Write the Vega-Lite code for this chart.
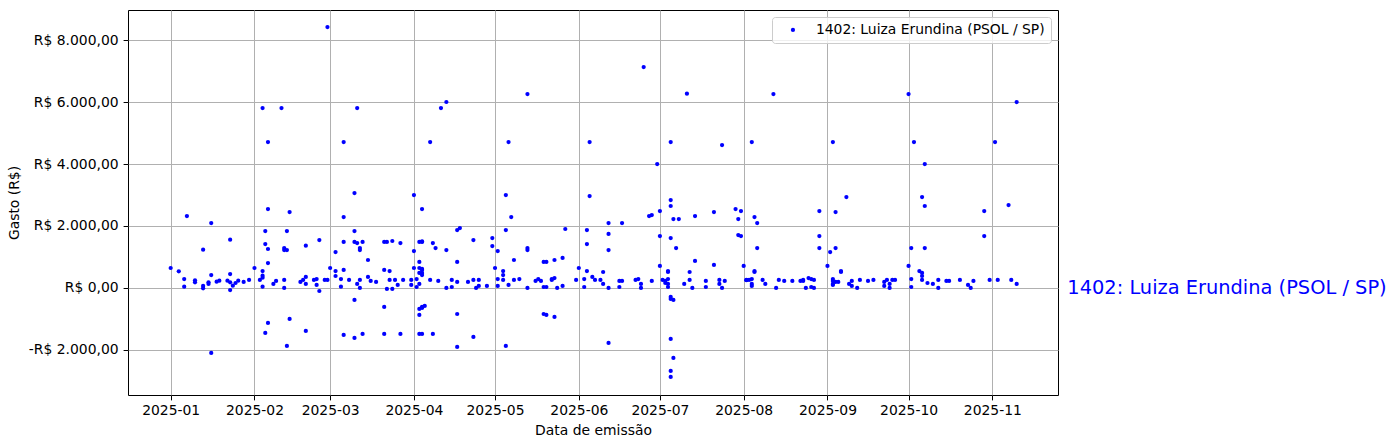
{
"$schema":"https://vega.github.io/schema/vega-lite/v6.json",
"width":930,"height":385,
"autosize":{"type":"none"},
"padding":{"left":128,"top":10,"right":339,"bottom":53},
"background":"white",
"config":{
 "font":"DejaVu Sans",
 "view":{"stroke":"#000","strokeWidth":1},
 "axis":{"labelFont":"DejaVu Sans","labelFontSize":13.9,"labelColor":"#000","titleFont":"DejaVu Sans","titleFontSize":13.9,"titleFontWeight":"normal","titleColor":"#000","tickColor":"#000","tickSize":4.9,"tickWidth":1,"labelPadding":4,"gridColor":"#b0b0b0","gridWidth":1,"gridOpacity":1,"domain":false,"zindex":1,"labelFlush":false,"labelOverlap":false}
},
"encoding":{
 "x":{"field":"d","type":"temporal",
  "scale":{"type":"time","nice":false,"domain":[{"year":2024,"month":12,"date":16,"hours":5},{"year":2025,"month":11,"date":25,"hours":7}]},
  "axis":{"title":"Data de emissão","format":"%Y-%m","titlePadding":6,
   "values":[{"year":2025,"month":1,"date":1},{"year":2025,"month":2,"date":1},{"year":2025,"month":3,"date":1},{"year":2025,"month":4,"date":1},{"year":2025,"month":5,"date":1},{"year":2025,"month":6,"date":1},{"year":2025,"month":7,"date":1},{"year":2025,"month":8,"date":1},{"year":2025,"month":9,"date":1},{"year":2025,"month":10,"date":1},{"year":2025,"month":11,"date":1}]}},
 "y":{"field":"v","type":"quantitative",
  "scale":{"domain":[-3452,8968],"nice":false,"zero":false},
  "axis":{"title":"Gasto (R$)","titlePadding":7,"labelPadding":5,"values":[-2000,0,2000,4000,6000,8000],
   "labelExpr":"(datum.value < 0 ? '-' : '') + 'R$ ' + replace(format(abs(datum.value), ','), ',', '.') + ',00'"}}
},
"layer":[
 {"data":{"values":[
{"d":"2025/01/01","v":645},{"d":"2025/01/04","v":537},{"d":"2025/01/07","v":2322},{"d":"2025/01/06","v":290},{"d":"2025/01/06","v":43},{"d":"2025/01/10","v":247},{"d":"2025/01/10","v":183},{"d":"2025/01/13","v":1236},{"d":"2025/01/13","v":65},{"d":"2025/01/13","v":-10},{"d":"2025/01/16","v":2096},{"d":"2025/01/16","v":-2096},{"d":"2025/01/16","v":419},{"d":"2025/01/15","v":183},{"d":"2025/01/15","v":129},{"d":"2025/01/18","v":204},{"d":"2025/01/19","v":236},{"d":"2025/01/23","v":1559},{"d":"2025/01/23","v":451},{"d":"2025/01/22","v":236},{"d":"2025/01/23","v":183},{"d":"2025/01/23","v":-65},{"d":"2025/01/24","v":75},{"d":"2025/01/25","v":161},{"d":"2025/01/26","v":236},{"d":"2025/01/28","v":194},{"d":"2025/01/30","v":258},
{"d":"2025/02/01","v":645},{"d":"2025/02/04","v":5805},{"d":"2025/02/06","v":4709},{"d":"2025/02/06","v":2548},{"d":"2025/02/05","v":1838},{"d":"2025/02/05","v":1419},{"d":"2025/02/06","v":1258},{"d":"2025/02/06","v":806},{"d":"2025/02/04","v":548},{"d":"2025/02/04","v":398},{"d":"2025/02/04","v":333},{"d":"2025/02/03","v":258},{"d":"2025/02/04","v":43},{"d":"2025/02/06","v":-1129},{"d":"2025/02/05","v":-1451},{"d":"2025/02/11","v":5805},{"d":"2025/02/14","v":2451},{"d":"2025/02/13","v":1838},{"d":"2025/02/12","v":1290},{"d":"2025/02/13","v":1225},{"d":"2025/02/12","v":1225},{"d":"2025/02/08","v":129},{"d":"2025/02/09","v":226},{"d":"2025/02/12","v":258},{"d":"2025/02/12","v":0},{"d":"2025/02/14","v":-1000},{"d":"2025/02/13","v":-1870},{"d":"2025/02/18","v":194},{"d":"2025/02/20","v":1365},{"d":"2025/02/20","v":-1387},{"d":"2025/02/19","v":258},{"d":"2025/02/20","v":355},{"d":"2025/02/20","v":129},{"d":"2025/02/23","v":258},{"d":"2025/02/24","v":290},{"d":"2025/02/24","v":97},{"d":"2025/02/25","v":1548},{"d":"2025/02/25","v":-97},{"d":"2025/02/27","v":258},{"d":"2025/02/28","v":258},{"d":"2025/02/28","v":8417},
{"d":"2025/03/01","v":645},{"d":"2025/03/03","v":548},{"d":"2025/03/03","v":387},{"d":"2025/03/03","v":1161},{"d":"2025/03/05","v":290},{"d":"2025/03/05","v":43},{"d":"2025/03/06","v":1484},{"d":"2025/03/06","v":4709},{"d":"2025/03/06","v":2290},{"d":"2025/03/06","v":581},{"d":"2025/03/06","v":-1516},{"d":"2025/03/08","v":258},{"d":"2025/03/10","v":3064},{"d":"2025/03/10","v":1838},{"d":"2025/03/10","v":1484},{"d":"2025/03/11","v":5805},{"d":"2025/03/10","v":-387},{"d":"2025/03/10","v":-1612},{"d":"2025/03/11","v":129},{"d":"2025/03/11","v":1451},{"d":"2025/03/12","v":1290},{"d":"2025/03/12","v":1225},{"d":"2025/03/12","v":258},{"d":"2025/03/12","v":0},{"d":"2025/03/13","v":1484},{"d":"2025/03/13","v":-1483},{"d":"2025/03/15","v":903},{"d":"2025/03/15","v":355},{"d":"2025/03/16","v":226},{"d":"2025/03/18","v":194},{"d":"2025/03/21","v":1484},{"d":"2025/03/22","v":1484},{"d":"2025/03/21","v":581},{"d":"2025/03/21","v":-613},{"d":"2025/03/21","v":-1483},{"d":"2025/03/23","v":548},{"d":"2025/03/23","v":258},{"d":"2025/03/22","v":-32},{"d":"2025/03/24","v":1516},{"d":"2025/03/25","v":258},{"d":"2025/03/24","v":-32},{"d":"2025/03/26","v":97},{"d":"2025/03/27","v":1451},{"d":"2025/03/27","v":-1483},{"d":"2025/03/28","v":258},{"d":"2025/03/31","v":258},{"d":"2025/03/31","v":97},
{"d":"2025/04/01","v":2999},{"d":"2025/04/01","v":1193},{"d":"2025/04/01","v":645},{"d":"2025/04/02","v":290},{"d":"2025/04/02","v":32},{"d":"2025/04/03","v":129},{"d":"2025/04/04","v":2548},{"d":"2025/04/03","v":1484},{"d":"2025/04/04","v":1484},{"d":"2025/04/04","v":1500},{"d":"2025/04/03","v":839},{"d":"2025/04/03","v":645},{"d":"2025/04/04","v":613},{"d":"2025/04/04","v":581},{"d":"2025/04/03","v":484},{"d":"2025/04/04","v":484},{"d":"2025/04/04","v":419},{"d":"2025/04/03","v":-677},{"d":"2025/04/04","v":-613},{"d":"2025/04/05","v":-580},{"d":"2025/04/04","v":-645},{"d":"2025/04/03","v":-871},{"d":"2025/04/03","v":-1483},{"d":"2025/04/04","v":-1483},{"d":"2025/04/07","v":4709},{"d":"2025/04/07","v":258},{"d":"2025/04/08","v":1451},{"d":"2025/04/09","v":1290},{"d":"2025/04/08","v":-1483},{"d":"2025/04/10","v":226},{"d":"2025/04/11","v":5805},{"d":"2025/04/13","v":6000},{"d":"2025/04/13","v":1225},{"d":"2025/04/13","v":0},{"d":"2025/04/15","v":258},{"d":"2025/04/15","v":32},{"d":"2025/04/17","v":1870},{"d":"2025/04/18","v":1935},{"d":"2025/04/17","v":839},{"d":"2025/04/17","v":194},{"d":"2025/04/17","v":-839},{"d":"2025/04/17","v":-1903},{"d":"2025/04/21","v":194},{"d":"2025/04/23","v":258},{"d":"2025/04/23","v":1548},{"d":"2025/04/23","v":-1580},{"d":"2025/04/24","v":0},{"d":"2025/04/25","v":65},{"d":"2025/04/25","v":258},{"d":"2025/04/28","v":65},{"d":"2025/04/30","v":1612},{"d":"2025/04/30","v":1354},
{"d":"2025/05/01","v":645},{"d":"2025/05/02","v":1193},{"d":"2025/05/02","v":290},{"d":"2025/05/02","v":65},{"d":"2025/05/04","v":258},{"d":"2025/05/04","v":548},{"d":"2025/05/04","v":419},{"d":"2025/05/05","v":2999},{"d":"2025/05/05","v":1870},{"d":"2025/05/06","v":4709},{"d":"2025/05/05","v":-1870},{"d":"2025/05/06","v":97},{"d":"2025/05/07","v":2290},{"d":"2025/05/08","v":258},{"d":"2025/05/08","v":903},{"d":"2025/05/10","v":290},{"d":"2025/05/13","v":6257},{"d":"2025/05/13","v":1290},{"d":"2025/05/13","v":1225},{"d":"2025/05/13","v":0},{"d":"2025/05/16","v":226},{"d":"2025/05/17","v":290},{"d":"2025/05/18","v":226},{"d":"2025/05/19","v":32},{"d":"2025/05/19","v":839},{"d":"2025/05/20","v":839},{"d":"2025/05/19","v":-839},{"d":"2025/05/20","v":-871},{"d":"2025/05/20","v":32},{"d":"2025/05/22","v":258},{"d":"2025/05/22","v":290},{"d":"2025/05/23","v":322},{"d":"2025/05/23","v":903},{"d":"2025/05/23","v":-935},{"d":"2025/05/24","v":0},{"d":"2025/05/26","v":65},{"d":"2025/05/26","v":968},{"d":"2025/05/27","v":1903},{"d":"2025/05/31","v":258},
{"d":"2025/06/01","v":645},{"d":"2025/06/03","v":290},{"d":"2025/06/03","v":32},{"d":"2025/06/04","v":548},{"d":"2025/06/04","v":1419},{"d":"2025/06/04","v":1870},{"d":"2025/06/05","v":2967},{"d":"2025/06/05","v":4709},{"d":"2025/06/06","v":355},{"d":"2025/06/07","v":258},{"d":"2025/06/09","v":258},{"d":"2025/06/10","v":516},{"d":"2025/06/10","v":129},{"d":"2025/06/12","v":2096},{"d":"2025/06/12","v":1742},{"d":"2025/06/12","v":1225},{"d":"2025/06/12","v":0},{"d":"2025/06/12","v":-1774},{"d":"2025/06/16","v":226},{"d":"2025/06/17","v":226},{"d":"2025/06/16","v":32},{"d":"2025/06/17","v":2096},{"d":"2025/06/22","v":258},{"d":"2025/06/23","v":290},{"d":"2025/06/24","v":129},{"d":"2025/06/24","v":0},{"d":"2025/06/25","v":7127},{"d":"2025/06/27","v":2322},{"d":"2025/06/28","v":2354},{"d":"2025/06/28","v":226},{"d":"2025/06/30","v":3999},
{"d":"2025/07/01","v":2483},{"d":"2025/07/01","v":1677},{"d":"2025/07/01","v":710},{"d":"2025/07/02","v":258},{"d":"2025/07/03","v":226},{"d":"2025/07/03","v":161},{"d":"2025/07/04","v":548},{"d":"2025/07/04","v":516},{"d":"2025/07/04","v":290},{"d":"2025/07/04","v":129},{"d":"2025/07/04","v":32},{"d":"2025/07/05","v":4709},{"d":"2025/07/05","v":2838},{"d":"2025/07/05","v":2645},{"d":"2025/07/05","v":1612},{"d":"2025/07/05","v":-290},{"d":"2025/07/05","v":-355},{"d":"2025/07/06","v":-387},{"d":"2025/07/05","v":-1645},{"d":"2025/07/06","v":-2257},{"d":"2025/07/05","v":-2677},{"d":"2025/07/05","v":-2870},{"d":"2025/07/06","v":2225},{"d":"2025/07/08","v":2225},{"d":"2025/07/07","v":1290},{"d":"2025/07/10","v":129},{"d":"2025/07/11","v":6267},{"d":"2025/07/12","v":258},{"d":"2025/07/12","v":516},{"d":"2025/07/13","v":0},{"d":"2025/07/14","v":2322},{"d":"2025/07/14","v":871},{"d":"2025/07/18","v":226},{"d":"2025/07/18","v":32},{"d":"2025/07/21","v":2451},{"d":"2025/07/21","v":742},{"d":"2025/07/24","v":4612},{"d":"2025/07/23","v":258},{"d":"2025/07/23","v":129},{"d":"2025/07/24","v":0},{"d":"2025/07/25","v":226},{"d":"2025/07/29","v":2548},{"d":"2025/07/31","v":2483},{"d":"2025/07/30","v":2225},{"d":"2025/07/30","v":1709},{"d":"2025/07/31","v":1677},
{"d":"2025/08/01","v":710},{"d":"2025/08/02","v":258},{"d":"2025/08/02","v":250},{"d":"2025/08/03","v":258},{"d":"2025/08/04","v":290},{"d":"2025/08/04","v":129},{"d":"2025/08/04","v":65},{"d":"2025/08/04","v":4709},{"d":"2025/08/05","v":2290},{"d":"2025/08/06","v":2096},{"d":"2025/08/06","v":1290},{"d":"2025/08/05","v":548},{"d":"2025/08/05","v":516},{"d":"2025/08/08","v":258},{"d":"2025/08/09","v":129},{"d":"2025/08/12","v":6257},{"d":"2025/08/13","v":0},{"d":"2025/08/14","v":258},{"d":"2025/08/16","v":226},{"d":"2025/08/19","v":226},{"d":"2025/08/22","v":226},{"d":"2025/08/23","v":226},{"d":"2025/08/23","v":258},{"d":"2025/08/24","v":0},{"d":"2025/08/25","v":322},{"d":"2025/08/26","v":290},{"d":"2025/08/27","v":258},{"d":"2025/08/26","v":32},{"d":"2025/08/27","v":0},{"d":"2025/08/29","v":2483},{"d":"2025/08/29","v":1677},{"d":"2025/08/29","v":1290},
{"d":"2025/09/01","v":710},{"d":"2025/09/02","v":1161},{"d":"2025/09/03","v":4709},{"d":"2025/09/03","v":290},{"d":"2025/09/03","v":97},{"d":"2025/09/04","v":2451},{"d":"2025/09/04","v":1290},{"d":"2025/09/08","v":2935},{"d":"2025/09/06","v":548},{"d":"2025/09/06","v":516},{"d":"2025/09/03","v":226},{"d":"2025/09/04","v":194},{"d":"2025/09/05","v":194},{"d":"2025/09/03","v":129},{"d":"2025/09/09","v":129},{"d":"2025/09/10","v":226},{"d":"2025/09/10","v":65},{"d":"2025/09/12","v":0},{"d":"2025/09/13","v":258},{"d":"2025/09/16","v":226},{"d":"2025/09/18","v":258},{"d":"2025/09/22","v":194},{"d":"2025/09/22","v":65},{"d":"2025/09/23","v":258},{"d":"2025/09/24","v":129},{"d":"2025/09/24","v":0},{"d":"2025/09/25","v":258},{"d":"2025/09/26","v":258},
{"d":"2025/10/01","v":6257},{"d":"2025/10/01","v":710},{"d":"2025/10/02","v":1290},{"d":"2025/10/02","v":290},{"d":"2025/10/02","v":32},{"d":"2025/10/03","v":4709},{"d":"2025/10/05","v":548},{"d":"2025/10/06","v":484},{"d":"2025/10/06","v":387},{"d":"2025/10/06","v":258},{"d":"2025/10/06","v":2935},{"d":"2025/10/07","v":2645},{"d":"2025/10/07","v":3999},{"d":"2025/10/07","v":1290},{"d":"2025/10/08","v":161},{"d":"2025/10/10","v":129},{"d":"2025/10/12","v":258},{"d":"2025/10/12","v":0},{"d":"2025/10/15","v":226},{"d":"2025/10/16","v":226},{"d":"2025/10/20","v":258},{"d":"2025/10/23","v":97},{"d":"2025/10/24","v":0},{"d":"2025/10/25","v":226},{"d":"2025/10/29","v":2483},{"d":"2025/10/29","v":1677},{"d":"2025/10/31","v":258},
{"d":"2025/11/02","v":4709},{"d":"2025/11/03","v":258},{"d":"2025/11/07","v":2677},{"d":"2025/11/08","v":258},{"d":"2025/11/10","v":5999},{"d":"2025/11/10","v":129}
 ]},
 "mark":{"type":"circle","size":18,"opacity":1},
 "encoding":{"color":{"datum":"1402: Luiza Erundina (PSOL / SP)","scale":{"range":["#0000ff"]},
   "legend":{"title":null,"orient":"top-right","offset":7,"zindex":2,"labelFont":"DejaVu Sans","labelFontSize":13.9,"labelColor":"#000","labelLimit":500,"symbolType":"circle","symbolSize":18,"symbolOpacity":1,"padding":6,"fillColor":"rgba(255,255,255,0.8)","strokeColor":"#cccccc","cornerRadius":3,"symbolOffset":8,"labelOffset":16}}}
 },
 {"data":{"values":[{"d":"2025/11/28 18:00","v":0,"t":"1402: Luiza Erundina (PSOL / SP)"}]},
  "mark":{"type":"text","align":"left","baseline":"middle","font":"DejaVu Sans","fontSize":19.4,"color":"#0000ff","clip":false},
  "encoding":{"text":{"field":"t"}}}
]
}
